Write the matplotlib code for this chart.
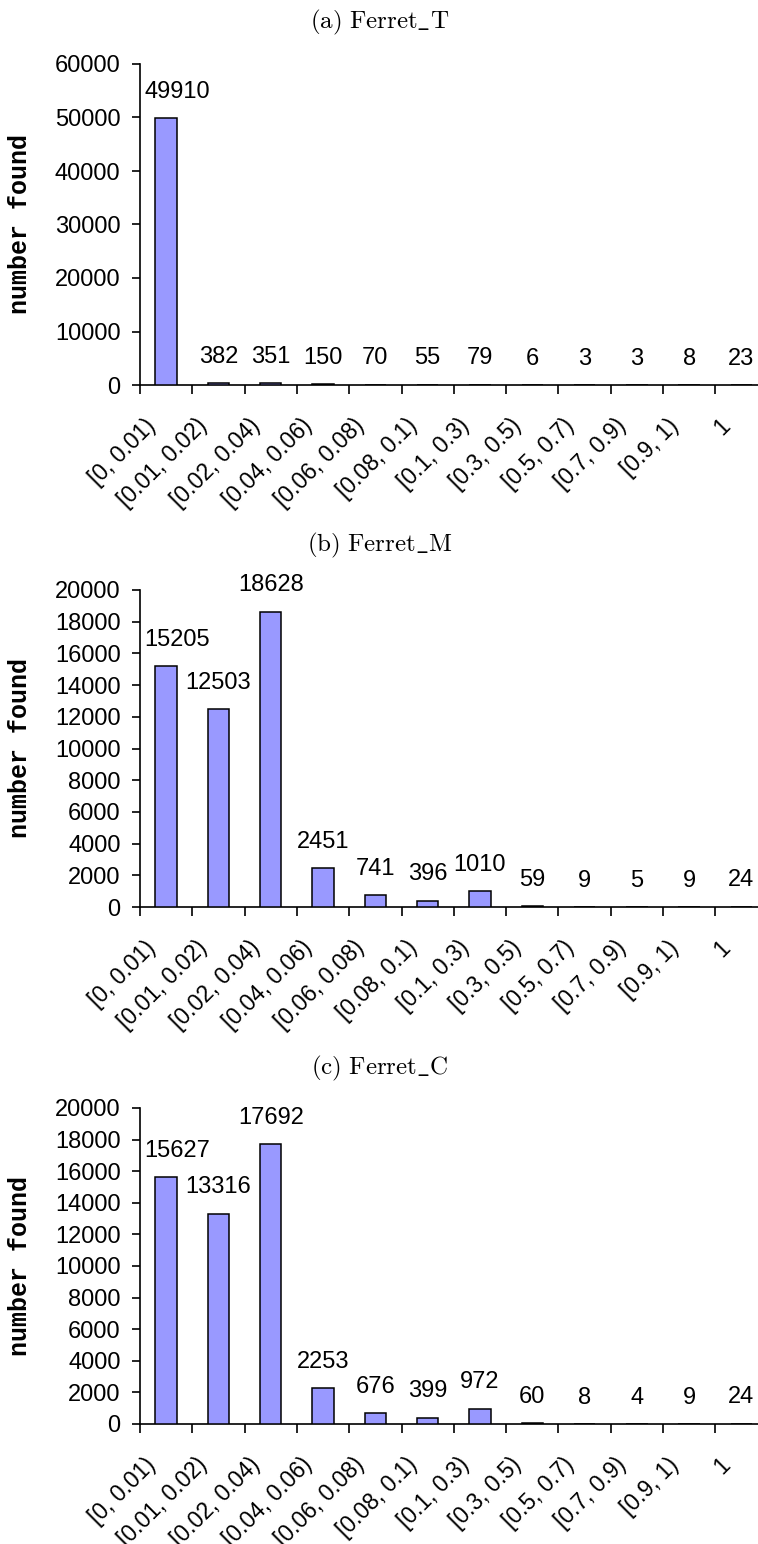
import matplotlib
matplotlib.use('Agg')
import matplotlib.pyplot as plt
from matplotlib.ticker import FixedLocator, NullFormatter

# similarity bins and the number of pairs found in each one
bins = ['[0, 0.01)', '[0.01, 0.02)', '[0.02, 0.04)', '[0.04, 0.06)',
        '[0.06, 0.08)', '[0.08, 0.1)', '[0.1, 0.3)', '[0.3, 0.5)',
        '[0.5, 0.7)', '[0.7, 0.9)', '[0.9, 1)', '1']
ferret_t = [49910, 382, 351, 150, 70, 55, 79, 6, 3, 3, 8, 23]
ferret_m = [15205, 12503, 18628, 2451, 741, 396, 1010, 59, 9, 5, 9, 24]
ferret_c = [15627, 13316, 17692, 2253, 676, 399, 972, 60, 8, 4, 9, 24]

titles = [r'$\mathrm{(a)\ Ferret\_T}$',
          r'$\mathrm{(b)\ Ferret\_M}$',
          r'$\mathrm{(c)\ Ferret\_C}$']
y_max = [60000, 20000, 20000]
y_step = [10000, 2000, 2000]

plt.rcParams['mathtext.fontset'] = 'cm'
plt.rcParams['font.family'] = ['Liberation Sans', 'DejaVu Sans']

W, H = 758, 1544
fig = plt.figure(figsize=(W / 100, H / 100), dpi=100)

# plot area of each panel in pixels: (top, bottom) and title centre
panels = [(64, 385, 22), (590, 907, 545), (1108, 1424, 1068)]
x0 = 140
cat_w = 52.3


def draw_panel(ax, values, ymax, ystep):
    n = len(values)
    xs = list(range(n))
    ax.bar(xs, values, width=0.41, color='#9999ff', edgecolor='black',
           linewidth=1.1, zorder=3)
    ax.set_xlim(-0.5, n - 0.5)
    ax.set_ylim(0, ymax)

    for s in ['top', 'right']:
        ax.spines[s].set_visible(False)
    for s in ['left', 'bottom']:
        ax.spines[s].set_linewidth(1.2)

    ax.set_yticks(range(0, ymax + 1, ystep))
    ax.tick_params(axis='y', direction='out', length=6, width=1.2,
                   pad=8, labelsize=17)

    # ticks between categories, labels slanted under each bar
    ax.xaxis.set_major_locator(FixedLocator([i - 0.5 for i in xs]))
    ax.xaxis.set_major_formatter(NullFormatter())
    ax.set_xticks([i - 0.12 for i in xs], bins, minor=True)
    ax.tick_params(axis='x', which='major', direction='out', length=6.5,
                   width=1.2)
    ax.tick_params(axis='x', which='minor', length=0, pad=21, labelsize=16.5)
    for lab in ax.get_xticklabels(minor=True):
        lab.set_rotation(45)
        lab.set_ha('right')
        lab.set_va('top')

    for i, v in enumerate(values):
        if i == 0:
            ax.annotate(str(v), (-0.5, v), xytext=(3, 11),
                        textcoords='offset points', ha='left',
                        va='bottom', fontsize=17)
        else:
            ax.annotate(str(v), (i, v), xytext=(0, 11),
                        textcoords='offset points', ha='center',
                        va='bottom', fontsize=17)


for (top, bottom, ty), vals, title, ym, ys in zip(
        panels, [ferret_t, ferret_m, ferret_c], titles, y_max, y_step):
    ax = fig.add_axes([x0 / W, 1 - bottom / H, 12 * cat_w / W,
                       (bottom - top) / H])
    draw_panel(ax, vals, ym, ys)
    fig.text(380 / W, 1 - ty / H, title, ha='center', va='center',
             fontsize=18)
    fig.text(20 / W, 1 - (top + bottom) / 2 / H, 'number found',
             rotation=90, ha='center', va='center',
             family='Liberation Mono', weight='bold', fontsize=18)

fig.savefig('out.png', dpi=100)
